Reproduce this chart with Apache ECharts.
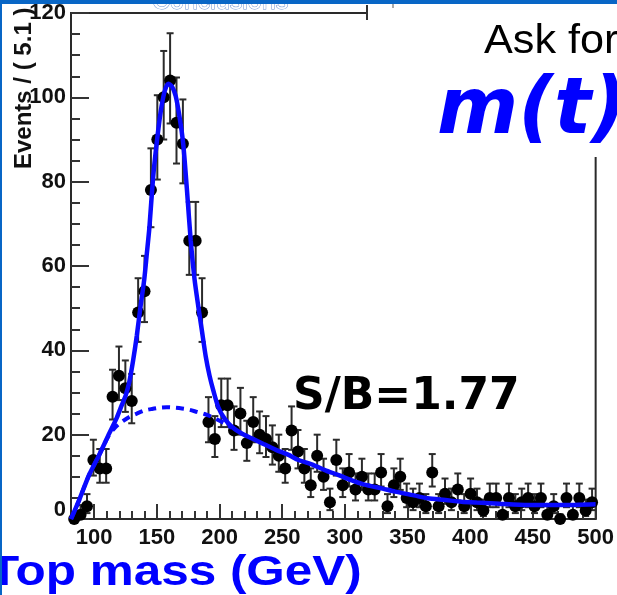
<!DOCTYPE html>
<html>
<head>
<meta charset="utf-8">
<script src="https://cdn.jsdelivr.net/npm/echarts@6/dist/echarts.min.js"></script>
<style>html,body{margin:0;padding:0;background:#fff;}#c{width:617px;height:595px;}</style>
</head>
<body>
<div id="c"></div>
<script>
// Bin centres (GeV), bin width 5.1
const binCenters = [84.05,89.15,94.25,99.35,104.45,109.55,114.65,119.75,124.85,129.95,135.05,140.15,145.25,150.35,155.45,160.55,165.65,170.75,175.85,180.95,186.05,191.15,196.25,201.35,206.45,211.55,216.65,221.75,226.85,231.95,237.05,242.15,247.25,252.35,257.45,262.55,267.65,272.75,277.85,282.95,288.05,293.15,298.25,303.35,308.45,313.55,318.65,323.75,328.85,333.95,339.05,344.15,349.25,354.35,359.45,364.55,369.65,374.75,379.85,384.95,390.05,395.15,400.25,405.35,410.45,415.55,420.65,425.75,430.85,435.95,441.05,446.15,451.25,456.35,461.45,466.55,471.65,476.75,481.85,486.95,492.05,497.15];
const counts = [0,1,3,14,12,12,29,34,31,28,49,54,78,90,100,104,94,89,66,66,49,23,19,27,27,21,25,18,23,20,19,17,15,12,21,16,12,8,15,10,4,14,8,11,7,10,7,7,11,3,8,10,5,4,5,3,11,3,6,4,7,3,6,4,2,5,5,1,5,3,4,5,3,5,1,3,0,5,1,5,2,4];
const errLow = [0,0.8,1.6,3.7,3.4,3.4,5.4,5.8,5.6,5.3,7.0,7.3,8.8,9.5,10.0,10.2,9.7,9.4,8.1,8.1,7.0,4.8,4.3,5.2,5.2,4.6,5.0,4.2,4.8,4.4,4.3,4.1,3.8,3.4,4.6,4.0,3.4,2.8,3.8,3.1,1.9,3.7,2.8,3.3,2.6,3.1,2.6,2.6,3.3,1.6,2.8,3.1,2.2,1.9,2.2,1.6,3.3,1.6,2.4,1.9,2.6,1.6,2.4,1.9,1.3,2.2,2.2,0.8,2.2,1.6,1.9,2.2,1.6,2.2,0.8,1.6,0,2.2,0.8,2.2,1.3,1.9];
const errHigh = [1.1,2.3,2.9,4.8,4.6,4.6,6.4,6.9,6.6,6.4,8.1,8.4,9.9,10.5,11.0,11.2,10.7,10.5,9.2,9.2,8.1,5.9,5.4,6.3,6.3,5.7,6.1,5.3,5.9,5.5,5.4,5.2,5.0,4.6,5.7,5.1,4.6,4.0,5.0,4.3,3.2,4.8,4.0,4.4,3.8,4.3,3.8,3.8,4.4,2.9,4.0,4.3,3.4,3.2,3.4,2.9,4.4,2.9,3.6,3.2,3.8,2.9,3.6,3.2,2.6,3.4,3.4,2.3,3.4,2.9,3.2,3.4,2.9,3.4,2.3,2.9,1.1,3.4,2.3,3.4,2.6,3.2];

// Fit curves
const fitTotalMass = [81.5,88,96,104,112,118,122,125,128,131,134,137,140,142,144,147,150,153,156,159,162,165,168,171,174,177,180,183,186,189,192,195,199,204,210,218,226,235,245,255,263,275,284,295,305,315,330,340,355,366,380,393,405,420,446,472,500];
const fitTotalEvents = [0,4.5,10.5,15.2,20.3,24,27,29.2,32.5,37.5,43.5,50.5,57,63,69,81,89.5,96.5,101.2,103.2,102.6,100.3,95.5,89,78,66,57,50.5,44.5,38.5,34,30.5,26.5,23.8,21.8,20.2,19.1,17.8,16.4,15.2,14,12.8,11.6,10.4,9.2,8.2,7.2,6.5,5.6,4.9,4.5,4.1,3.9,3.7,3.3,3.3,3.5];
const fitBkgMass = [81.5,88,96,104,112,117,122,128,134,140,146,152,158,164,170,176,182,188,194,200,206,210];
const fitBkgEvents = [0,4.5,10.5,15.2,20,21.8,23,24.2,25,25.7,26.1,26.4,26.5,26.4,26.2,25.9,25.4,24.9,24.2,23.3,22.4,21.6];

// Axes
const xLabelValues = [100,150,200,250,300,350,400,450,500];
const xMinorTickValues = [90,100,110,120,130,140,150,160,170,180,190,200,210,220,230,240,250,260,270,280,290,300,310,320,330,340,350,360,370,380,390,400,410,420,430,440,450,460,470,480,490,500];
const yMin = 0, yMax = 120, yStep = 20;
const xMin = 81.5, xMax = 500;

const labelFont = '"Liberation Sans", Arial, sans-serif';
const chart = echarts.init(document.getElementById('c'), null, {renderer:'canvas'});

const errData = binCenters.map((x,i)=>[x, counts[i], errLow[i], errHigh[i]]);
const ptData = binCenters.map((x,i)=>[x, counts[i]]);
const totData = fitTotalMass.map((x,i)=>[x, fitTotalEvents[i]]);
const bkgData = fitBkgMass.map((x,i)=>[x, fitBkgEvents[i]]);

chart.setOption({
  animation:false,
  backgroundColor:'#fff',
  grid:{left:71, right:19, top:13, bottom:76, show:true, borderColor:'#2a2a2a', borderWidth:2, backgroundColor:'transparent'},
  xAxis:[{
    type:'value', min:xMin, max:xMax, position:'bottom',
    axisLine:{show:true, onZero:false, lineStyle:{color:'#2a2a2a', width:2}},
    axisTick:{show:true, inside:true, length:8, customValues:xMinorTickValues, lineStyle:{color:'#333', width:2}},
    axisLabel:{show:true, customValues:xLabelValues, margin:8, color:'#111', fontSize:22, fontWeight:'bold', fontFamily:labelFont},
    splitLine:{show:false}
  },{
    type:'value', min:xMin, max:xMax, position:'bottom', gridIndex:0,
    axisLine:{show:false},
    axisTick:{show:true, inside:true, length:15, customValues:xLabelValues, lineStyle:{color:'#333', width:2}},
    axisLabel:{show:false},
    splitLine:{show:false}
  }],
  yAxis:{
    type:'value', min:yMin, max:yMax, interval:yStep,
    axisLine:{show:true, onZero:false, lineStyle:{color:'#2a2a2a', width:2}},
    axisTick:{show:true, inside:true, length:18, lineStyle:{color:'#333', width:2}},
    minorTick:{show:true, splitNumber:4, length:9, lineStyle:{color:'#333', width:2}},
    axisLabel:{margin:5, color:'#111', fontSize:22, fontWeight:'bold', fontFamily:labelFont,
      formatter:function(v){ return v===0 ? '{z|0}' : String(v); },
      rich:{z:{fontSize:22, fontWeight:'bold', fontFamily:labelFont, color:'#111', padding:[0,0,18,0]}}},
    splitLine:{show:false}
  },
  series:[
    {
      type:'custom', xAxisIndex:0, z:2, clip:false,
      data:errData,
      renderItem:function(params, api){
        const x = api.value(0), y = api.value(1), lo = api.value(2), hi = api.value(3);
        const top = api.coord([x, y+hi]);
        const bot = api.coord([x, y-lo]);
        const c = 3.5;
        return {type:'group', children:[
          {type:'line', shape:{x1:top[0], y1:top[1], x2:bot[0], y2:bot[1]}, style:{stroke:'#2b2b2b', lineWidth:2}},
          {type:'line', shape:{x1:top[0]-c, y1:top[1], x2:top[0]+c, y2:top[1]}, style:{stroke:'#2b2b2b', lineWidth:2}},
          {type:'line', shape:{x1:bot[0]-c, y1:bot[1], x2:bot[0]+c, y2:bot[1]}, style:{stroke:'#2b2b2b', lineWidth:2}}
        ]};
      }
    },
    {type:'scatter', xAxisIndex:0, z:3, clip:false, symbol:'circle', symbolSize:12, itemStyle:{color:'#000', opacity:1}, emphasis:{disabled:true}, data:ptData},
    {type:'line', xAxisIndex:0, z:4, data:bkgData, symbol:'none', smooth:0.3, lineStyle:{color:'#0a0aff', width:4, type:[8,6]}},
    {type:'line', xAxisIndex:0, z:5, data:totData, symbol:'none', smooth:0.25, lineStyle:{color:'#0a0aff', width:4.5}}
  ],
  graphic:[
    {type:'rect', z:50, shape:{x:368, y:4, width:249, height:153}, style:{fill:'#ffffff'}},
    {type:'line', z:51, shape:{x1:367, y1:5, x2:367, y2:20}, style:{stroke:'#333', lineWidth:2}},
    {type:'line', z:51, shape:{x1:393, y1:4, x2:393, y2:8}, style:{stroke:'#555', lineWidth:1}},
    {type:'rect', z:100, shape:{x:0, y:0, width:617, height:4}, style:{fill:'#0866c6'}},
    {type:'rect', z:100, shape:{x:0, y:0, width:2, height:595}, style:{fill:'#0866c6'}},
    {type:'text', z:90, x:152, y:2, style:{text:'Conclusions', font:'25px "Liberation Sans", Arial', fill:'#ffffff', stroke:'#6f93d2', lineWidth:1, align:'left', verticalAlign:'middle', textAlign:'left', textVerticalAlign:'middle'}},
    {type:'text', z:60, x:24, y:169, rotation:Math.PI/2, style:{text:'Events / ( 5.1 )', font:'bold 24px "Liberation Sans", Arial', fill:'#111', align:'left', verticalAlign:'middle', textAlign:'left', textVerticalAlign:'middle'}},
    {type:'text', z:60, x:484, y:42, scaleX:1.08, style:{text:'Ask for', font:'40px "Liberation Sans", Arial', fill:'#000', align:'left', verticalAlign:'middle', textAlign:'left', textVerticalAlign:'middle'}},
    {type:'text', z:60, x:437, y:113, style:{text:'m(t)', font:'italic bold 78px "DejaVu Sans"', fill:'#0000ff', align:'left', verticalAlign:'middle', textAlign:'left', textVerticalAlign:'middle'}},
    {type:'text', z:60, x:293, y:398, style:{text:'S/B=1.77', font:'bold 44px "DejaVu Sans"', fill:'#000', align:'left', verticalAlign:'middle', textAlign:'left', textVerticalAlign:'middle'}},
    {type:'text', z:60, x:-11, y:573, scaleX:1.15, style:{text:'Top mass (GeV)', font:'bold 43px "Liberation Sans", Arial', fill:'#0000ff', align:'left', verticalAlign:'middle', textAlign:'left', textVerticalAlign:'middle'}}
  ]
});
</script>
</body>
</html>
